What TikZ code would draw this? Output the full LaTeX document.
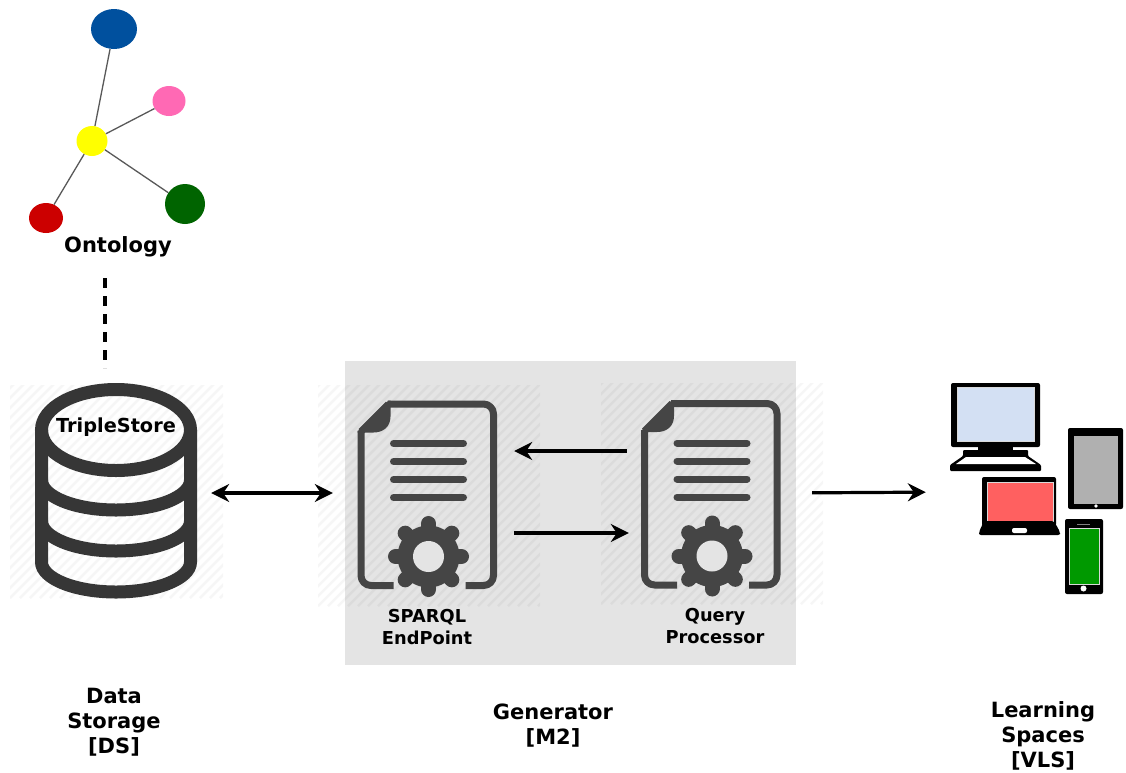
\documentclass[tikz,border=0pt]{standalone}
\usepackage{fontspec}
\setmainfont{DejaVu Sans}
\usetikzlibrary{arrows.meta,shapes.geometric}
\definecolor{panel}{HTML}{E4E4E4}
\definecolor{cyl}{HTML}{363636}
\definecolor{docc}{HTML}{454545}
\definecolor{cblue}{HTML}{00509E}
\definecolor{cpink}{HTML}{FF69B4}
\definecolor{cred}{HTML}{CC0000}
\definecolor{cgreen}{HTML}{006400}
\definecolor{cyellow}{HTML}{FFFF00}
\definecolor{monitorc}{HTML}{D3E0F3}
\definecolor{tabletc}{HTML}{B0B0B0}
\definecolor{laptopc}{HTML}{FF6060}
\definecolor{phonec}{HTML}{009900}
\tikzset{
  bubble/.style={ellipse,inner sep=0pt,draw=none},
  edge/.style={draw=black!65,line width=1.3pt},
  flow/.style={draw=black,line width=3.2pt,-{Stealth[length=18pt,width=18pt,inset=6pt]}},
  flowboth/.style={draw=black,line width=3.2pt,{Stealth[length=18pt,width=18pt,inset=6pt]}-{Stealth[length=18pt,width=18pt,inset=6pt]}},
  ghost/.style={inner sep=0pt,draw=none,fill=none},
  lab/.style={font=\bfseries\fontsize{21}{25}\selectfont,align=center,inner sep=0pt},
  sublab/.style={font=\bfseries\fontsize{17.8}{22}\selectfont,align=center,inner sep=0pt},
  hatchline/.style={black,opacity=0.035,line width=2.5pt},
  docline/.style={docc,line width=7pt,line cap=round},
  docedge/.style={docc,line width=7pt,line join=round},
  tooth/.style={docc,line width=15pt,line cap=round},
  device/.style={fill=black,draw=none,rounded corners=2pt},
  screen/.style={draw=white!85!black,line width=0.6pt},
}
\newcommand{\hatcharea}[4]{%
  \begin{scope}
    \clip (#1,#2) rectangle (#3,#4);
    \foreach \k in {0,10,...,470}{
      \draw[hatchline] (#1+\k-240,#4) -- ++(240,-240);
    }
  \end{scope}}
\newcommand{\docicon}[2]{%
  \begin{scope}[shift={(#1,#2)}]
    \draw[docedge,rounded corners=10pt] (36,185) -- (3.5,185) -- (3.5,30);
    \draw[docedge] (3.5,31) -- (31,3.5);
    \draw[docedge,rounded corners=10pt] (30,3.5) -- (136,3.5) -- (136,185) -- (108,185);
    \fill[docc] (0,31) -- (31,0) -- (33,0) -- (33,16) .. controls (33,26) and (26,32) .. (16,32) -- (0,32) -- cycle;
    \foreach \yy in {43,61,79,97}{\draw[docline] (36,\yy) -- (106,\yy);}
    \begin{scope}[shift={(71,156)}]
      \fill[docc] (0,0) circle (31);
      \foreach \a in {0,45,...,315}{\draw[tooth] (0,0) -- (\a:33);}
      \fill[panel] (0,0) circle (15.5);
    \end{scope}
  \end{scope}}
\begin{document}
\begin{tikzpicture}[x=1pt,y=-1pt]
\useasboundingbox (0,0) rectangle (1126,772);
\fill[white] (0,0) rectangle (1126,772);
\fill[panel] (345,361) rectangle (796,665);
\hatcharea{10}{385}{223}{598}
\hatcharea{318}{385}{540}{606}
\hatcharea{601}{383}{823}{604}

% Ontology graph
\node[bubble,fill=cblue,minimum width=46pt,minimum height=40pt] (blue) at (114,29) {};
\node[bubble,fill=cpink,minimum width=33pt,minimum height=30pt] (pink) at (169,101) {};
\node[bubble,fill=cyellow,minimum width=31pt,minimum height=30pt] (yellownode) at (92,141) {};
\node[bubble,fill=cred,minimum width=34pt,minimum height=30pt] (rednode) at (46,218) {};
\node[bubble,fill=cgreen,minimum width=40pt,minimum height=40pt] (greennode) at (185,204) {};
\draw[edge] (yellownode) -- (blue);
\draw[edge] (yellownode) -- (pink);
\draw[edge] (yellownode) -- (rednode);
\draw[edge] (yellownode) -- (greennode);
\node[lab] (ontology) at (118,247) {Ontology};

% Cylinder
\draw[cyl,line width=13pt] (116,430) ellipse [x radius=74.5,y radius=40.5];
\draw[cyl,line width=13pt] (41.5,430) -- (41.5,562) arc[start angle=180,end angle=360,x radius=74.5,y radius=-30] -- (190.5,430);
\draw[cyl,line width=13pt] (41.5,480) arc[start angle=180,end angle=360,x radius=74.5,y radius=-30];
\draw[cyl,line width=13pt] (41.5,521) arc[start angle=180,end angle=360,x radius=74.5,y radius=-30];
\node[font=\bfseries\fontsize{19.3}{23}\selectfont,inner sep=0pt] (triple) at (116,427) {TripleStore};
\node[ghost,minimum width=162pt,minimum height=216pt] (ds) at (116,493) {};

% Documents
\docicon{357.5}{400.5}
\docicon{641}{400}
\node[ghost,minimum width=140pt,minimum height=200pt] (sparql) at (427,493) {};
\node[ghost,minimum width=140pt,minimum height=200pt] (query) at (711,493) {};
\node[sublab] (sparqllab) at (427,627) {SPARQL\\EndPoint};
\node[sublab] (querylab) at (715,626) {Query\\Processor};

% Devices
\node[ghost,minimum width=174pt,minimum height=212pt] (devices) at (1037,492) {};
\fill[device] (951,383) rectangle (1040,447);
\fill[monitorc,screen] (957,387) rectangle (1034,441);
\fill[black] (978,446) rectangle (1013,451);
\fill[black,rounded corners=1pt] (963,450) -- (1028,450) -- (1028,456) -- (1041,465) -- (1041,471) -- (950,471) -- (950,465) -- (963,456) -- cycle;
\fill[white] (966,457) -- (1025,457) -- (1036,464) -- (956,464) -- cycle;
\fill[device] (1068,428) rectangle (1123,509);
\fill[tabletc] (1074,436) rectangle (1118,504);
\fill[white] (1096,506) circle (1.8);
\fill[device] (982,477) rectangle (1056,526);
\fill[laptopc,screen] (987,482) rectangle (1053,521);
\fill[black,rounded corners=2pt] (984,521) -- (1054,521) -- (1060,532) -- (1060,535) -- (979,535) -- (979,532) -- cycle;
\fill[white,rounded corners=2pt] (1012,528) rectangle (1027,533);
\fill[device] (1065,519) rectangle (1103,594);
\fill[phonec,screen] (1069,528) rectangle (1099,584);
\draw[black!50,line width=1pt] (1077,524) -- (1090,524);
\fill[white] (1083.5,588.5) circle (3);

% Dashed link
\coordinate (dashtop) at (105,278);
\coordinate (dashbot) at (105,368);
\draw[black,line width=3.4pt,dash pattern=on 10pt off 8pt] (dashtop) -- (dashbot);

% Flows
\draw[flowboth,shorten <=14pt,shorten >=24pt] (ds.east) -- (sparql.west);
\draw[flow,shorten <=14pt,shorten >=17pt] ([yshift=42pt]query.west) -- ([yshift=42pt]sparql.east);
\draw[flow,shorten <=17pt,shorten >=12pt] ([yshift=-40pt]sparql.east) -- ([yshift=-40pt]query.west);
\draw[flow,shorten <=31pt,shorten >=24pt] (query.east) -- (devices.west);

% Labels
\node[lab] (dslab) at (114,722) {Data\\Storage\\[0pt][DS]};
\node[lab] (m2lab) at (553,725.5) {Generator\\[0pt][M2]};
\node[lab] (vlslab) at (1043,736) {Learning\\Spaces\\[0pt][VLS]};
\end{tikzpicture}
\end{document}
